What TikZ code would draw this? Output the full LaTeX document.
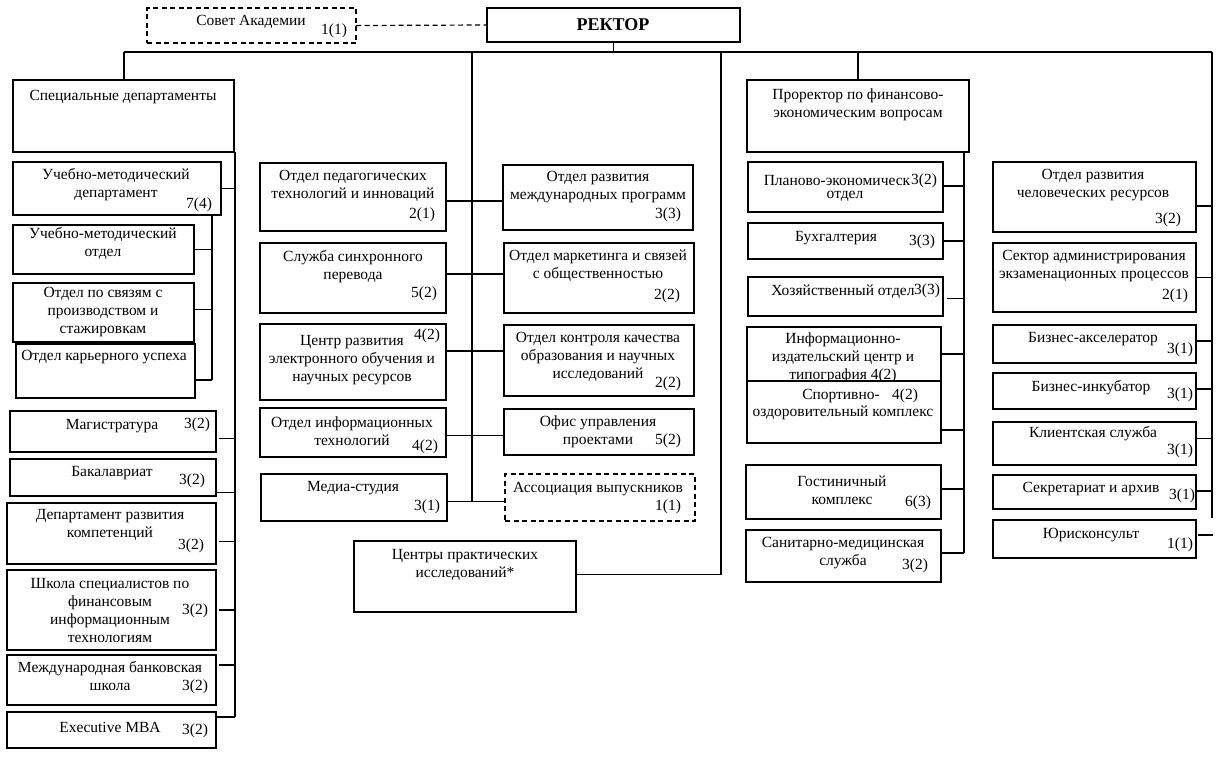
\documentclass[tikz,border=0pt]{standalone}
\usepackage{fontspec}
\setmainfont{Liberation Serif}
\begin{document}
\begin{tikzpicture}[x=1pt,y=-1pt,
  box/.style={draw, line width=1.2pt, inner sep=0pt, outer sep=0pt, fill=white},
  tbox/.style={box, line width=2.4pt},
  dbox/.style={box, line width=1.3pt, dash pattern=on 5pt off 3.5pt},
  txt/.style={align=center, inner sep=0pt, font=\fontsize{15.5}{18}\selectfont},
  num/.style={inner sep=0pt, font=\fontsize{15.5}{18}\selectfont},
  conn/.style={line width=1.2pt},
]
\newcommand\mybox[6]{\node[#6, minimum width={(#4-#2)*1pt}, minimum height={(#5-#3)*1pt}, anchor=north west] (#1) at (#2,#3) {};}
\useasboundingbox (0,0) rectangle (1220,756);
\fill[white] (0,0) rectangle (1220,756);

% ---------- top ----------
\mybox{sov}{147}{8}{356}{43}{dbox}
\node[txt] (t-sov) at (251,22) {Совет Академии};
\node[num] (n-sov) at (334,31) {1(1)};
\mybox{rec}{487}{8}{740}{42}{box}
\node[txt, font=\fontsize{18}{20}\selectfont\bfseries] (t-rec) at (613,25) {РЕКТОР};
\draw[conn, dash pattern=on 5pt off 3.5pt] (sov.east) -- (rec.west);

\coordinate (bL) at (124,52);
\coordinate (bR) at (1212,52);
\coordinate (bM) at (472,52);
\coordinate (bC) at (721,52);
\draw[conn] (bL) -- (bR);
\draw[conn] (rec.south) -- (rec.south |- bL);

% ---------- left column ----------
\mybox{sd}{13}{80}{234}{152}{tbox}
\node[txt] (t-sd) at (123,97) {Специальные департаменты};
\draw[conn] (bL) -- (bL |- sd.north);
\coordinate (sL) at (235,152);
\coordinate (sLb) at (235,717);
\draw[conn] (sL) -- (sLb);

\mybox{umd}{13}{162}{221}{215}{box}
\node[txt] (t-umd) at (116,185) {Учебно-методический\\департамент};
\node[num] (n-umd) at (199,205) {7(4)};
\draw[conn] (umd.east) -- (umd.east -| sL);
\coordinate (sU) at (212,215);
\coordinate (sUb) at (212,380);
\draw[conn] (sU) -- (sUb);

\mybox{umo}{13}{225}{194}{274}{box}
\node[txt] (t-umo) at (103,243.5) {Учебно-методический\\отдел};
\draw[conn] (umo.east) -- (umo.east -| sU);
\mybox{ops}{13}{283}{194}{342}{box}
\node[txt] (t-ops) at (103,312.5) {Отдел по связям с\\производством и\\стажировкам};
\draw[conn] ([yshift=3pt]ops.east) -- ([yshift=3pt]ops.east -| sU);
\mybox{oku}{16}{344}{195}{398}{box}
\node[txt] (t-oku) at (104,357) {Отдел карьерного успеха};
\draw[conn] ([yshift=-9pt]oku.east) -- (sUb);

\mybox{mag}{10}{411}{216}{452}{box}
\node[txt] (t-mag) at (112,426) {Магистратура};
\node[num] (n-mag) at (197,425) {3(2)};
\draw[conn] ([xshift=3pt,yshift=-7pt]mag.east) -- ([yshift=-7pt]mag.east -| sL);
\mybox{bak}{10}{459}{216}{496}{box}
\node[txt] (t-bak) at (112,473) {Бакалавриат};
\node[num] (n-bak) at (192,481) {3(2)};
\draw[conn] ([yshift=-15pt]bak.east) -- ([yshift=-15pt]bak.east -| sL);
\mybox{drk}{7}{503}{216}{564}{box}
\node[txt] (t-drk) at (110,525) {Департамент развития\\компетенций};
\node[num] (n-drk) at (191,546) {3(2)};
\draw[conn] ([xshift=3pt,yshift=-8pt]drk.east) -- ([yshift=-8pt]drk.east -| sL);
\mybox{shs}{7}{570}{216}{650}{box}
\node[txt] (t-shs) at (110,610.5) {Школа специалистов по\\финансовым\\информационным\\технологиям};
\node[num] (n-shs) at (195,611) {3(2)};
\draw[conn] ([xshift=3pt]shs.east) -- (shs.east -| sL);
\mybox{mbs}{7}{655}{216}{705}{box}
\node[txt] (t-mbs) at (110,676.5) {Международная банковская\\школа};
\node[num] (n-mbs) at (195,687) {3(2)};
\draw[conn] ([xshift=3pt,yshift=15pt]mbs.east) -- ([yshift=15pt]mbs.east -| sL);
\mybox{emba}{7}{712}{216}{748}{box}
\node[txt] (t-emba) at (110,727) {Executive MBA};
\node[num] (n-emba) at (195,731) {3(2)};
\draw[conn] ([yshift=-5pt]emba.north east) -- (sLb);

% ---------- middle ----------
\draw[conn] (bM) -- (472,502);
\mybox{opt}{260}{163}{446}{231}{box}
\node[txt] (t-opt) at (353,186) {Отдел педагогических\\технологий и инноваций};
\node[num] (n-opt) at (422,215) {2(1)};
\mybox{ormp}{503}{165}{693}{230}{box}
\node[txt] (t-ormp) at (598,187.5) {Отдел развития\\международных программ};
\node[num] (n-ormp) at (668,215) {3(3)};
\draw[conn] ([yshift=-4pt]opt.east) -- ([yshift=-4pt]opt.east -| ormp.west);

\mybox{ssp}{260}{243}{446}{313}{box}
\node[txt] (t-ssp) at (353,267) {Служба синхронного\\перевода};
\node[num] (n-ssp) at (424,294) {5(2)};
\mybox{oms}{504}{243}{694}{313}{box}
\node[txt] (t-oms) at (598,266) {Отдел маркетинга и связей\\с общественностью};
\node[num] (n-oms) at (667,296) {2(2)};
\draw[conn] ([yshift=4pt]ssp.east) -- ([yshift=4pt]ssp.east -| oms.west);

\mybox{cre}{260}{324}{446}{400}{box}
\node[txt] (t-cre) at (352,360.5) {Центр развития\\электронного обучения и\\научных ресурсов};
\node[num] (n-cre) at (427,336) {4(2)};
\mybox{okk}{504}{325}{694}{396}{box}
\node[txt] (t-okk) at (598,357) {Отдел контроля качества\\образования и научных\\исследований};
\node[num] (n-okk) at (668,384) {2(2)};
\draw[conn] ([yshift=11pt]cre.east) -- ([yshift=11pt]cre.east -| okk.west);

\mybox{oit}{260}{408}{446}{457}{box}
\node[txt] (t-oit) at (352,431) {Отдел информационных\\технологий};
\node[num] (n-oit) at (425,447) {4(2)};
\mybox{oup}{504}{409}{694}{455}{box}
\node[txt] (t-oup) at (598,431.5) {Офис управления\\проектами};
\node[num] (n-oup) at (668,441) {5(2)};
\draw[conn] ([yshift=-3pt]oit.east) -- ([yshift=-3pt]oit.east -| oup.west);

\mybox{ms}{261}{474}{447}{521}{box}
\node[txt] (t-ms) at (353,488) {Медиа-студия};
\node[num] (n-ms) at (427,507) {3(1)};
\mybox{av}{505}{474}{695}{521}{dbox}
\node[txt] (t-av) at (598,489) {Ассоциация выпускников};
\node[num] (n-av) at (668,507) {1(1)};
\draw[conn] ([yshift=-4pt]ms.east) -- ([yshift=-4pt]ms.east -| av.west);

\mybox{cpi}{354}{541}{576}{612}{tbox}
\node[txt] (t-cpi) at (465,565) {Центры практических\\исследований*};
\draw[conn] ([yshift=2pt]cpi.east) -| (bC);

% ---------- right column 1 ----------
\mybox{pr}{747}{80}{969}{152}{tbox}
\node[txt] (t-pr) at (858,104.5) {Проректор по финансово-\\экономическим вопросам};
\draw[conn] (pr.north |- bL) -- (pr.north);
\coordinate (sR1) at (964,152);
\coordinate (sR1b) at (964,553);
\draw[conn] (sR1) -- (sR1b);

\mybox{peo}{748}{162}{943}{212}{box}
\node[txt] (t-peo1) at (837,180) {Планово-экономическ};
\node[txt] (t-peo2) at (845,196) {отдел};
\node[num] (n-peo) at (924,181) {3(2)};
\draw[conn] ([yshift=1pt]peo.east) -- ([yshift=1pt]peo.east -| sR1);
\mybox{buh}{748}{223}{943}{259}{box}
\node[txt] (t-buh) at (836,238) {Бухгалтерия};
\node[num] (n-buh) at (922,242) {3(3)};
\draw[conn] (buh.east) -- (buh.east -| sR1);
\mybox{hoz}{748}{277}{943}{316}{box}
\node[txt] (t-hoz) at (843,292) {Хозяйственный отдел};
\node[num, fill=white, inner sep=0.5pt] (n-hoz) at (927,291) {3(3)};
\draw[conn] ([xshift=4pt,yshift=-2pt]hoz.east) -- ([yshift=-2pt]hoz.east -| sR1);
\mybox{izd}{747}{327}{941}{393}{box}
\node[txt] (t-izd) at (843,358) {Информационно-\\издательский центр и\\типография 4(2)};
\draw[conn] ([yshift=6pt]izd.east) -- ([yshift=6pt]izd.east -| sR1);
\mybox{soc}{747}{381}{941}{443}{box}
\node[txt] (t-soc1) at (841,396) {Спортивно-};
\node[txt] (t-soc2) at (843,413) {оздоровительный комплекс};
\node[num] (n-soc) at (905,396) {4(2)};
\draw[conn] ([yshift=-18pt]soc.east) -- ([yshift=-18pt]soc.east -| sR1);
\mybox{gk}{746}{465}{941}{519}{box}
\node[txt] (t-gk) at (842,490) {Гостиничный\\комплекс};
\node[num] (n-gk) at (918,503) {6(3)};
\draw[conn] ([yshift=3pt]gk.east) -- ([yshift=3pt]gk.east -| sR1);
\mybox{sms}{746}{530}{941}{582}{box}
\node[txt] (t-sms) at (843,553.5) {Санитарно-медицинская\\служба};
\node[num] (n-sms) at (915,566) {3(2)};
\draw[conn] ([yshift=3pt]sms.east) -- (sR1b);

% ---------- right column 2 ----------
\coordinate (sR2b) at (1212,518);
\draw[conn] (bR) -- (sR2b);
\mybox{orch}{993}{162}{1196}{232}{box}
\node[txt] (t-orch) at (1093,185) {Отдел развития\\человеческих ресурсов};
\node[num] (n-orch) at (1168,220) {3(2)};
\draw[conn] ([yshift=-9pt]orch.east) -- ([yshift=-9pt]orch.east -| bR);
\mybox{saep}{993}{243}{1196}{312}{box}
\node[txt] (t-saep) at (1094,266) {Сектор администрирования\\экзаменационных процессов};
\node[num] (n-saep) at (1175,296) {2(1)};
\draw[conn] (saep.east) -- (saep.east -| bR);
\mybox{ba}{993}{325}{1196}{363}{box}
\node[txt] (t-ba) at (1093,339) {Бизнес-акселератор};
\node[num] (n-ba) at (1180,350) {3(1)};
\draw[conn] ([yshift=3pt]ba.east) -- ([yshift=3pt]ba.east -| bR);
\mybox{bi}{993}{373}{1196}{409}{box}
\node[txt] (t-bi) at (1091,388) {Бизнес-инкубатор};
\node[num] (n-bi) at (1180,395) {3(1)};
\draw[conn] ([yshift=2pt]bi.east) -- ([yshift=2pt]bi.east -| bR);
\mybox{ks}{993}{422}{1196}{465}{box}
\node[txt] (t-ks) at (1093,434) {Клиентская служба};
\node[num] (n-ks) at (1180,451) {3(1)};
\draw[conn] ([yshift=5pt]ks.east) -- ([yshift=5pt]ks.east -| bR);
\mybox{sa}{993}{475}{1196}{509}{box}
\node[txt] (t-sa) at (1091,489) {Секретариат и архив};
\node[num] (n-sa) at (1182,496) {3(1)};
\draw[conn] ([yshift=1pt]sa.east) -- ([yshift=1pt]sa.east -| bR);
\mybox{jur}{993}{520}{1196}{558}{box}
\node[txt] (t-jur) at (1091,535) {Юрисконсульт};
\node[num] (n-jur) at (1180,545) {1(1)};
\coordinate (jurEnd) at (1213,535);
\draw[conn] ([xshift=2pt,yshift=4pt]jur.east) -- (jurEnd);
\end{tikzpicture}
\end{document}
